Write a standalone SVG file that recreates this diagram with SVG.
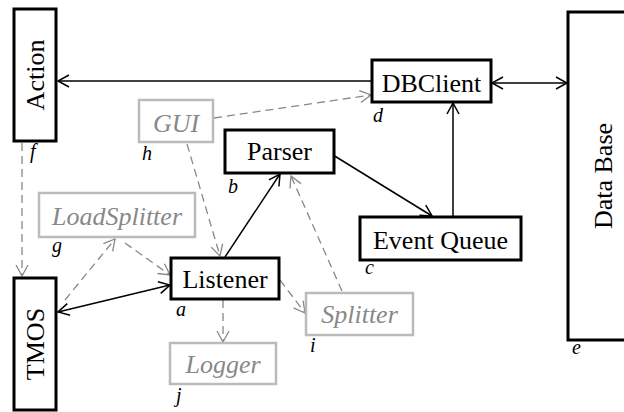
<svg xmlns="http://www.w3.org/2000/svg" width="624" height="412" viewBox="0 0 624 412">
<style>
.bx{fill:#fff;stroke:#000;stroke-width:3}
.gb{fill:#fff;stroke:#bbb;stroke-width:2.5}
text{font-family:'Liberation Serif','Times New Roman','DejaVu Serif',serif}
.t{font-size:26px;fill:#000;text-anchor:middle}
.gt{font-size:26px;font-style:italic;fill:#888;text-anchor:middle}
.lb{font-size:20px;font-style:italic;fill:#000}
.s{stroke:#000;stroke-width:1.5;fill:none}
.d{stroke:#888;stroke-width:1.3;fill:none;stroke-dasharray:8 5}
</style>
<defs>
<marker id="ab" markerUnits="userSpaceOnUse" markerWidth="14" markerHeight="14" refX="12" refY="7" orient="auto-start-reverse" viewBox="0 0 14 14">
<path d="M1,1 L12,7 L1,13" fill="none" stroke="#000" stroke-width="1.5"/>
</marker>
<marker id="ag" markerUnits="userSpaceOnUse" markerWidth="14" markerHeight="14" refX="12" refY="7" orient="auto-start-reverse" viewBox="0 0 14 14">
<path d="M1,1 L12,7 L1,13" fill="none" stroke="#888" stroke-width="1.3"/>
</marker>
</defs>
<g id="connectors">
<line class="s" x1="372" y1="81" x2="58" y2="81" marker-end="url(#ab)"/>
<line class="s" x1="492" y1="83" x2="567" y2="83" marker-start="url(#ab)" marker-end="url(#ab)"/>
<line class="s" x1="453" y1="217" x2="453" y2="103" marker-end="url(#ab)"/>
<line class="s" x1="333" y1="155" x2="432" y2="216" marker-end="url(#ab)"/>
<line class="s" x1="225" y1="257" x2="280" y2="174" marker-end="url(#ab)"/>
<line class="s" x1="58" y1="312" x2="170" y2="285" marker-start="url(#ab)" marker-end="url(#ab)"/>
<line class="d" x1="22" y1="143" x2="22" y2="276" marker-end="url(#ag)"/>
<line class="d" x1="214" y1="118" x2="371" y2="95" marker-end="url(#ag)"/>
<line class="d" x1="187" y1="144" x2="220" y2="256" marker-end="url(#ag)"/>
<line class="d" x1="65" y1="300" x2="115" y2="239" marker-end="url(#ag)"/>
<line class="d" x1="125" y1="243" x2="170" y2="275" marker-end="url(#ag)"/>
<line class="d" x1="223" y1="300" x2="223" y2="342" marker-end="url(#ag)"/>
<line class="d" x1="280" y1="280" x2="305" y2="313" marker-end="url(#ag)"/>
<line class="d" x1="342" y1="291" x2="291" y2="176" marker-end="url(#ag)"/>
</g>
<g id="action">
<rect class="bx" x="14" y="9" width="42" height="132"/>
<text class="t" font-family="Liberation Serif, serif" transform="translate(44,75) rotate(-90)">Action</text>
<text class="lb" font-family="Liberation Serif, serif" x="30" y="158">f</text>
</g>
<g id="tmos">
<rect class="bx" x="14" y="278" width="42" height="132"/>
<text class="t" font-family="Liberation Serif, serif" transform="translate(44,344) rotate(-90)">TMOS</text>
</g>
<g id="database">
<rect class="bx" x="568" y="12" width="70" height="328"/>
<text class="t" font-family="Liberation Serif, serif" transform="translate(612,176) rotate(-90)">Data Base</text>
<text class="lb" font-family="Liberation Serif, serif" x="572" y="354">e</text>
</g>
<g id="dbclient">
<rect class="bx" x="372" y="60" width="119" height="42"/>
<text class="t" font-family="Liberation Serif, serif" x="431.5" y="92">DBClient</text>
<text class="lb" font-family="Liberation Serif, serif" x="373" y="122">d</text>
</g>
<g id="parser">
<rect class="bx" x="225" y="130" width="109" height="43"/>
<text class="t" font-family="Liberation Serif, serif" x="279.5" y="160">Parser</text>
<text class="lb" font-family="Liberation Serif, serif" x="228" y="193">b</text>
</g>
<g id="eventqueue">
<rect class="bx" x="360" y="217" width="161" height="43"/>
<text class="t" font-family="Liberation Serif, serif" x="440.5" y="249">Event Queue</text>
<text class="lb" font-family="Liberation Serif, serif" x="365" y="274">c</text>
</g>
<g id="listener">
<rect class="bx" x="171" y="258" width="108" height="41"/>
<text class="t" font-family="Liberation Serif, serif" x="225" y="288">Listener</text>
<text class="lb" font-family="Liberation Serif, serif" x="176" y="316">a</text>
</g>
<g id="gui">
<rect class="gb" x="139" y="100" width="74" height="42"/>
<text class="gt" font-family="Liberation Serif, serif" x="176" y="132">GUI</text>
<text class="lb" font-family="Liberation Serif, serif" x="142" y="160">h</text>
</g>
<g id="loadsplitter">
<rect class="gb" x="39" y="193" width="156" height="44"/>
<text class="gt" font-family="Liberation Serif, serif" x="117" y="225">LoadSplitter</text>
<text class="lb" font-family="Liberation Serif, serif" x="52" y="252">g</text>
</g>
<g id="splitter">
<rect class="gb" x="306" y="293" width="107" height="42"/>
<text class="gt" font-family="Liberation Serif, serif" x="359.5" y="323">Splitter</text>
<text class="lb" font-family="Liberation Serif, serif" x="310" y="352">i</text>
</g>
<g id="logger">
<rect class="gb" x="170" y="343" width="106" height="41"/>
<text class="gt" font-family="Liberation Serif, serif" x="223" y="373">Logger</text>
<text class="lb" font-family="Liberation Serif, serif" x="176" y="402">j</text>
</g>
</svg>
